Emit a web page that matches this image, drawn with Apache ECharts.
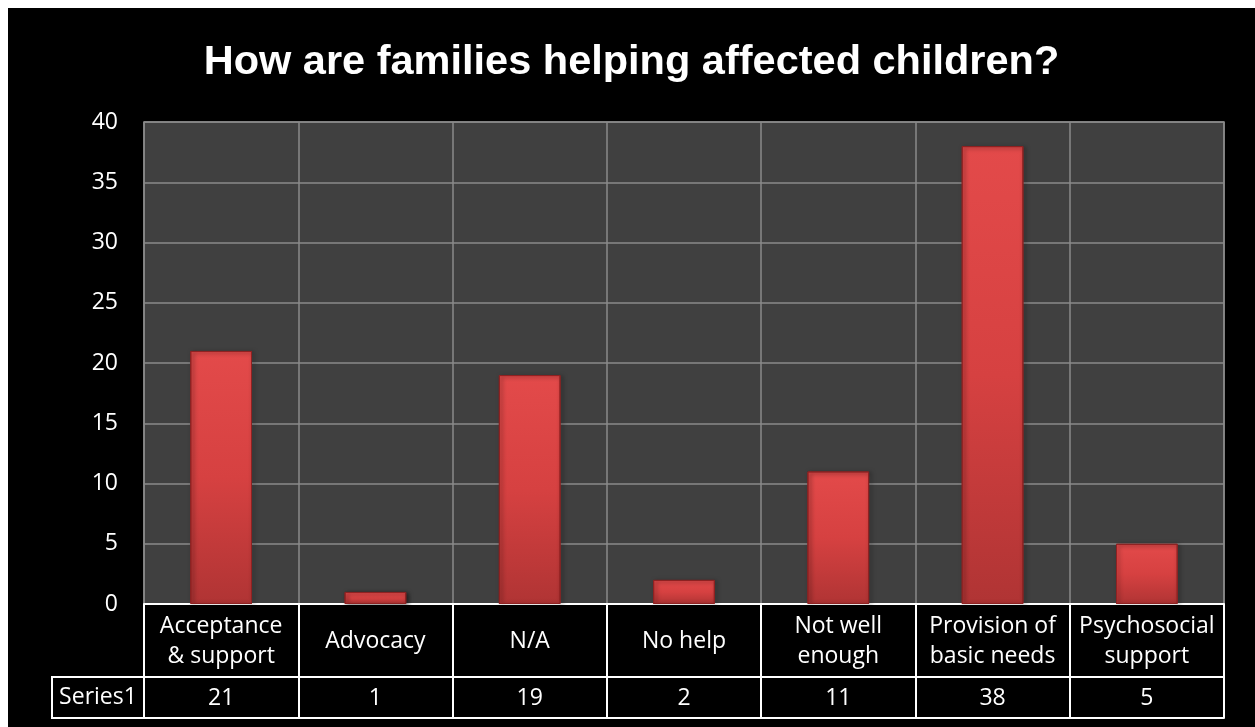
<!DOCTYPE html>
<html>
<head>
<meta charset="utf-8">
<script src="https://cdn.jsdelivr.net/npm/echarts@6/dist/echarts.min.js"></script>
<style>
  html, body { margin: 0; background: #ffffff; }
  #chart { position: absolute; left: 8px; top: 8px; width: 1247px; height: 719px; background: #000000; }
</style>
</head>
<body>
<div id="chart"></div>
<script>
// Survey answers: how families help affected children
const categories = [
  'Acceptance\n& support',
  'Advocacy',
  'N/A',
  'No help',
  'Not well\nenough',
  'Provision of\nbasic needs',
  'Psychosocial\nsupport'
];
const seriesName = 'Series1';
const values = [21, 1, 19, 2, 11, 38, 5];
const yMin = 0;
const yMax = 40;
const yInterval = 5;
const titleText = 'How are families helping affected children?';

// Layout (pixels inside the chart box)
const CHART_H = 719;
const GRID_LEFT = 136;
const GRID_RIGHT = 31;
const GRID_TOP = 114;
const GRID_BOTTOM = 123;
const ROW1_H = 73;   // category label row of the data table
const ROW2_H = 41;   // value row of the data table
const HEADER_W = 92; // "Series1" header cell
const LABEL_SIZE = 23;

const FONT = "'Open Sans', 'Liberation Sans', sans-serif";
const chart = echarts.init(document.getElementById('chart'), null, { renderer: 'canvas' });
const plotBottom = CHART_H - GRID_BOTTOM;

chart.setOption({
  backgroundColor: '#000000',
  textStyle: { fontFamily: FONT },
  title: {
    text: titleText,
    left: 'center',
    top: 29,
    textStyle: { color: '#ffffff', fontSize: 41.5, fontWeight: 'bold', fontFamily: "'Liberation Sans', sans-serif" }
  },
  grid: {
    left: GRID_LEFT, right: GRID_RIGHT, top: GRID_TOP, bottom: GRID_BOTTOM,
    show: true, backgroundColor: '#404040', borderColor: '#8a8a8a', borderWidth: 1.5
  },
  xAxis: [
    {
      // category names row, ticks form the table's vertical rules
      type: 'category',
      data: categories,
      position: 'bottom',
      axisLine: { show: true, lineStyle: { color: '#ffffff', width: 2 } },
      axisTick: { show: true, interval: 0, length: ROW1_H + ROW2_H, lineStyle: { color: '#ffffff', width: 2 } },
      axisLabel: {
        interval: 0, margin: Math.round(ROW1_H / 2), verticalAlign: 'middle',
        color: '#ffffff', fontSize: LABEL_SIZE, lineHeight: 30, fontFamily: FONT
      },
      splitLine: { show: true, interval: 0, lineStyle: { color: '#8a8a8a', width: 1.5 } }
    },
    {
      // value row of the data table
      type: 'category',
      data: values.map(String),
      position: 'bottom',
      offset: ROW1_H,
      axisLine: { show: true, lineStyle: { color: '#ffffff', width: 2 } },
      axisTick: { show: false },
      axisLabel: {
        interval: 0, margin: Math.round(ROW2_H / 2), verticalAlign: 'middle',
        color: '#ffffff', fontSize: LABEL_SIZE, fontFamily: FONT
      },
      splitLine: { show: false }
    },
    {
      // bottom rule of the data table
      type: 'category',
      data: categories,
      position: 'bottom',
      offset: ROW1_H + ROW2_H,
      axisLine: { show: true, lineStyle: { color: '#ffffff', width: 2 } },
      axisTick: { show: false },
      axisLabel: { show: false },
      splitLine: { show: false }
    }
  ],
  yAxis: {
    type: 'value',
    min: yMin, max: yMax, interval: yInterval,
    axisLine: { show: false },
    axisTick: { show: false },
    axisLabel: { color: '#ffffff', fontSize: LABEL_SIZE, margin: 26, fontFamily: FONT },
    splitLine: { show: true, lineStyle: { color: '#8a8a8a', width: 1.5 } }
  },
  series: [{
    name: seriesName,
    type: 'bar',
    xAxisIndex: 0,
    data: values,
    barWidth: '40%',
    itemStyle: {
      color: new echarts.graphic.LinearGradient(0, 0, 0, 1, [
        { offset: 0, color: '#e34a4a' },
        { offset: 0.5, color: '#d64141' },
        { offset: 1, color: '#b03434' }
      ]),
      borderColor: '#8f2222',
      borderWidth: 1,
      shadowColor: 'rgba(0,0,0,0.55)',
      shadowBlur: 4,
      shadowOffsetX: 2,
      shadowOffsetY: 1
    }
  }],
  graphic: [{
    // series header cell at the left of the value row
    type: 'group',
    x: GRID_LEFT - HEADER_W,
    y: plotBottom + ROW1_H,
    children: [
      {
        type: 'rect',
        shape: { x: 0, y: 0, width: HEADER_W, height: ROW2_H },
        style: { fill: '#000000', stroke: '#ffffff', lineWidth: 2 }
      },
      {
        type: 'text',
        x: HEADER_W / 2, y: ROW2_H / 2,
        style: {
          text: seriesName, fill: '#ffffff', fontSize: LABEL_SIZE, fontFamily: FONT,
          align: 'center', verticalAlign: 'middle'
        }
      }
    ]
  }]
});
</script>
</body>
</html>
